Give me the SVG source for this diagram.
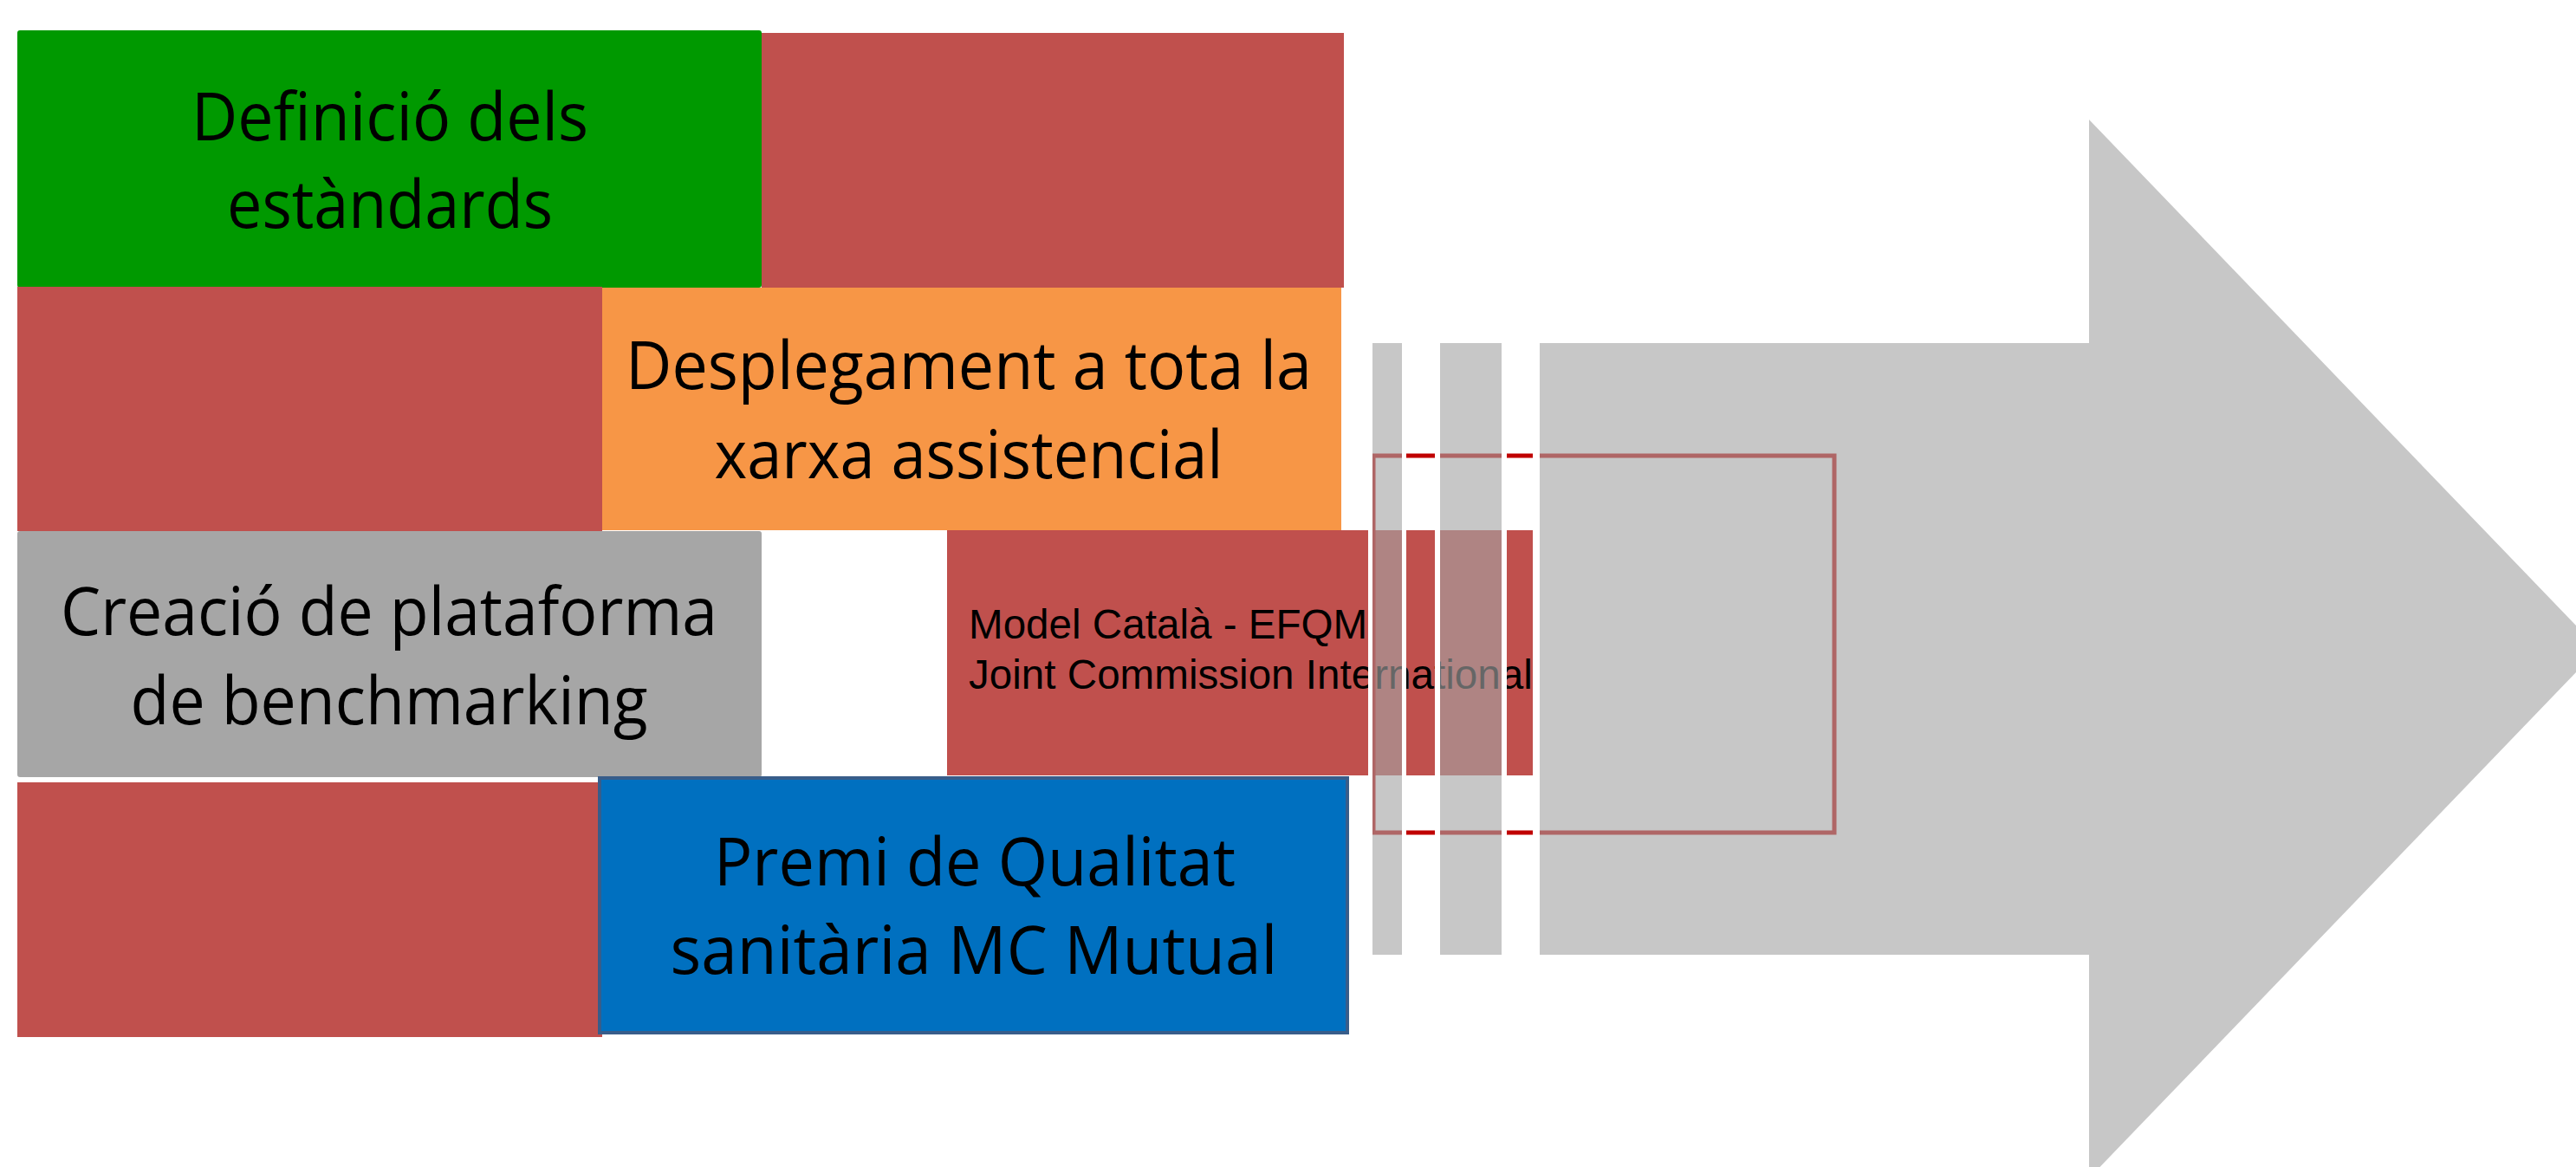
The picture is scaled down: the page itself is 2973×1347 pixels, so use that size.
<svg xmlns="http://www.w3.org/2000/svg" width="2973" height="1347" viewBox="0 0 2973 1347">
<defs>
<style>
.lbl{font-family:"Open Sans","Noto Sans","DejaVu Sans",sans-serif;font-size:77px;fill:#000;text-anchor:middle}
.small{font-family:"Liberation Sans",Arial,sans-serif;font-size:47.6px;fill:#000}
.red{fill:#C0504D}
.veil{fill:#A5A5A5;fill-opacity:0.62}
.gap{stroke:#FFFFFF;fill:none}
</style>
</defs>
<rect width="2973" height="1347" fill="#FFFFFF"/>
<g id="bg-red-1"><rect class="red" x="879" y="38" width="672" height="294"/></g>
<g id="node-definicio">
<rect x="20" y="35" width="859" height="297" rx="3" fill="#009900"/>
<text class="lbl" x="450" y="162" textLength="458" lengthAdjust="spacingAndGlyphs">Definició dels</text>
<text class="lbl" x="450" y="263" textLength="376" lengthAdjust="spacingAndGlyphs">estàndards</text>
</g>
<g id="bg-red-2"><rect class="red" x="20" y="331" width="675" height="282"/></g>
<g id="node-desplegament">
<rect x="695" y="332" width="853" height="280" fill="#F79646"/>
<text class="lbl" x="1118" y="449" textLength="792" lengthAdjust="spacingAndGlyphs">Desplegament a tota la</text>
<text class="lbl" x="1118" y="552" textLength="587" lengthAdjust="spacingAndGlyphs">xarxa assistencial</text>
</g>
<g id="node-creacio">
<rect x="20" y="613" width="859" height="284" rx="3" fill="#A6A6A6"/>
<text class="lbl" x="449" y="733" textLength="758" lengthAdjust="spacingAndGlyphs">Creació de plataforma</text>
<text class="lbl" x="449" y="836" textLength="597" lengthAdjust="spacingAndGlyphs">de benchmarking</text>
</g>
<g id="bg-red-3"><rect class="red" x="20" y="903" width="675" height="294"/></g>
<g id="node-premi">
<rect x="692" y="898" width="863" height="294" fill="#0070C0" stroke="#385D8A" stroke-width="4"/>
<text class="lbl" x="1125" y="1022" textLength="602" lengthAdjust="spacingAndGlyphs">Premi de Qualitat</text>
<text class="lbl" x="1124" y="1124" textLength="701" lengthAdjust="spacingAndGlyphs">sanitària MC Mutual</text>
</g>
<g id="node-model">
<rect class="red" x="1093" y="612" width="679" height="283"/>
<text class="small" x="1118" y="737">Model Català - EFQM</text>
<text class="small" x="1118" y="795">Joint Commission International</text>
</g>
<g id="connectors">
<rect id="focus-frame" x="1585" y="526" width="532" height="435" fill="none" stroke="#C00000" stroke-width="5"/>
<rect id="strip-1" class="veil" x="1584" y="396" width="34" height="706"/>
<rect id="strip-2" class="veil" x="1662" y="396" width="71" height="706"/>
<polygon id="big-arrow" class="veil" points="1777,396 2411,396 2411,138 2999,749 2411,1360 2411,1102 1777,1102"/>
<line class="gap" x1="1581.5" y1="396" x2="1581.5" y2="1102" stroke-width="5"/>
<line class="gap" x1="1620.5" y1="396" x2="1620.5" y2="1102" stroke-width="5"/>
<line class="gap" x1="1659" y1="396" x2="1659" y2="1102" stroke-width="6"/>
<line class="gap" x1="1736" y1="396" x2="1736" y2="1102" stroke-width="6"/>
<line class="gap" x1="1773" y1="396" x2="1773" y2="1102" stroke-width="8"/>
</g>
</svg>
